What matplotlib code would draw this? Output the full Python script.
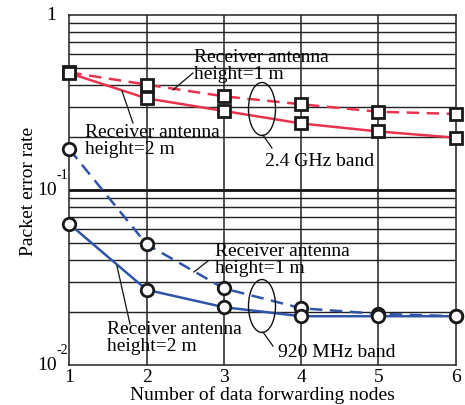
import matplotlib
matplotlib.use("Agg")
import matplotlib.pyplot as plt
import matplotlib.transforms as mtransforms
from matplotlib.patches import Ellipse
from matplotlib.ticker import NullFormatter, LogLocator
import numpy as np

plt.rcParams['font.family'] = ['Liberation Serif', 'DejaVu Serif']

nodes = [1, 2, 3, 4, 5, 6]
ghz24_h1 = [0.47, 0.40, 0.343, 0.309, 0.280, 0.272]
ghz24_h2 = [0.465, 0.334, 0.283, 0.240, 0.216, 0.199]
mhz920_h1 = [0.171, 0.049, 0.0274, 0.0211, 0.0196, 0.0190]
mhz920_h2 = [0.064, 0.0269, 0.0214, 0.0190, 0.0190, 0.0190]
xticks = [1, 2, 3, 4, 5, 6]

red = '#E8334F'
blue = '#2F55A8'

fig = plt.figure(figsize=(4.65, 4.06), dpi=100)
ax = fig.add_axes([69.3/465, 1-366/406, (455.7-69.3)/465, 350/406])
ax.set_yscale('log')
ax.set_xlim(1, 6)
ax.set_ylim(0.01, 1)

# grid
ax.yaxis.set_minor_locator(LogLocator(base=10, subs=np.arange(2, 10)))
ax.yaxis.set_minor_formatter(NullFormatter())
ax.yaxis.set_major_formatter(NullFormatter())
for v in np.concatenate([np.arange(2, 10)*0.01, np.arange(2, 10)*0.1]):
    ax.axhline(v, color='#222222', lw=1.0, zorder=1)
ax.axhline(0.1, color='#111111', lw=2.0, zorder=1)
for x in [2, 3, 4, 5]:
    ax.axvline(x, color='#222222', lw=1.1, zorder=1)
for s in ax.spines.values():
    s.set_linewidth(1.1)
    s.set_color('#222222')
ax.tick_params(which='both', length=0)
ax.set_xticks(xticks)
ax.set_xticklabels([str(t) for t in xticks], fontsize=14)
ax.tick_params(axis='x', pad=2)

# y tick labels
trans = mtransforms.blended_transform_factory(ax.transAxes, ax.transData)
ax.text(-0.035, 1.0, '1', transform=trans, ha='right', va='center', fontsize=14)
for val, sup in [(0.1, '-1'), (0.01, '-2')]:
    ax.text(-0.033, val, '10', transform=trans, ha='right', va='center', fontsize=14)
    ax.text(-0.032, val*1.12, sup, transform=trans, ha='left', va='bottom', fontsize=10)

ax.set_xlabel('Number of data forwarding nodes', fontsize=14, labelpad=0)
ax.set_ylabel('Packet error rate', fontsize=14, labelpad=19.5)

ms = 9
mew = 2.0
kw = dict(ms=ms, mfc='white', mec='#1a1a1a', mew=mew, zorder=3, clip_on=False, lw=1.8)
ax.plot(nodes, ghz24_h1, color=red, ls=(0, (5, 3)), marker='s', **kw)
ax.plot(nodes, ghz24_h2, color=red, ls='-', marker='s', **kw)
ax.plot(nodes, mhz920_h1, color=blue, ls=(0, (5, 3)), marker='o', **kw)
ax.plot(nodes, mhz920_h2, color=blue, ls='-', marker='o', **kw)

def px(xp, yp):
    return 1 + (xp - 69.3) / 77.3, 10 ** (-(yp - 16) / 175)

fs = 14
def label(xp, yp, txt):
    x, y = px(xp, yp)
    ax.text(x, y, txt, fontsize=fs, ha='left', va='top', linespacing=1.0, zorder=4)

def leader(p1, p2):
    a = px(*p1); b = px(*p2)
    ax.plot([a[0], b[0]], [a[1], b[1]], color='#111111', lw=0.9, zorder=4)

label(194, 49, 'Receiver antenna\nheight=1 m')
leader((193, 74), (173, 91))
label(85, 124, 'Receiver antenna\nheight=2 m')
leader((133, 124), (122, 92))
label(265, 153, '2.4 GHz band')
label(215, 243, 'Receiver antenna\nheight=1 m')
leader((208, 262), (194, 273))
label(107, 321, 'Receiver antenna\nheight=2 m')
leader((130, 325), (117, 267))
label(278, 344, '920 MHz band')

# ellipses in pixel space
def ellipse(cx, cy, w, h):
    e = Ellipse((cx, 406 - cy), w, h, transform=None, fill=False,
                ec='#111111', lw=1.0, zorder=4)
    fig.add_artist(e)

ellipse(262, 110, 27, 53)
leader((263, 136), (272, 149))
ellipse(262, 307, 27, 53)
leader((263, 333), (273, 347))

fig.savefig('out.png', dpi=100)
